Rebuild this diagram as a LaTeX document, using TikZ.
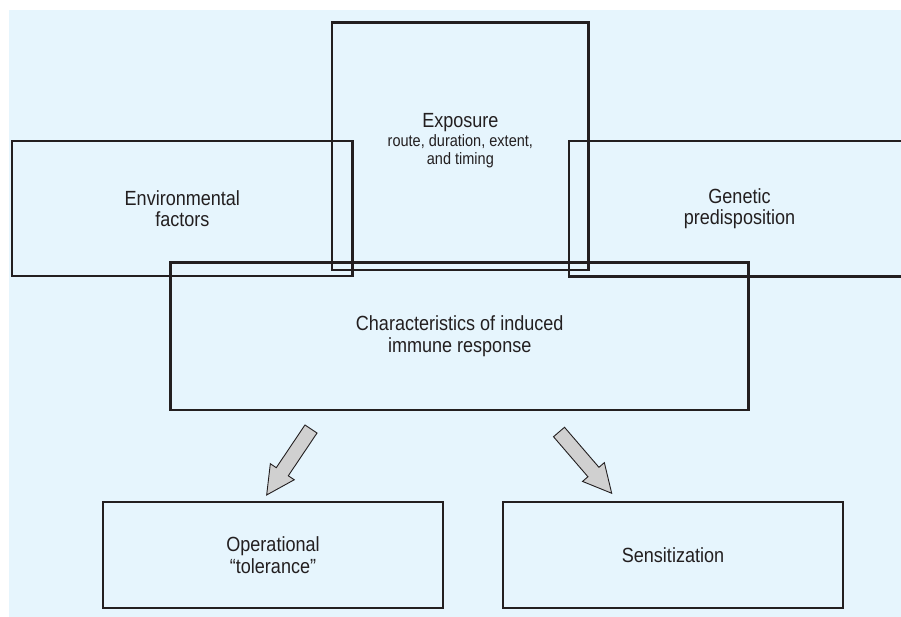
\documentclass[tikz,border=0pt]{standalone}
\usepackage{fontspec}
\setmainfont{Liberation Sans}[FakeStretch=0.88]
\definecolor{bgblue}{RGB}{230,245,253}
\definecolor{ink}{RGB}{35,31,32}
\definecolor{arrowgray}{RGB}{208,208,208}
\newcommand{\subfnt}{\fontsize{16.5}{18.4}\selectfont}
\tikzset{
  boxtext/.style={text=ink, align=center, font=\fontsize{20.5}{21.5}\selectfont},
  box/.style={draw=ink, line width=2.8pt, rectangle, inner sep=0pt, boxtext},
  blockarrow/.style={draw=ink, line width=0.9pt, fill=arrowgray, line join=miter}
}
\begin{document}
\begin{tikzpicture}[x=1pt,y=1pt]
\useasboundingbox (0,0) rectangle (901,-617);
\clip (0,0) rectangle (901,-617);
\fill[bgblue] (9,-10) rectangle (901,-617);

\node[box, minimum width=256.7, minimum height=247.3,
  label={[boxtext, yshift=5.5pt]center:Exposure\\[-3.1pt]{\subfnt route, duration, extent,}\\[-3.1pt]{\subfnt and timing}}]
  (ex) at (460.35,-146.35) {};
\node[box, minimum width=340.7, minimum height=135] (env) at (182.35,-208.5)
  {Environmental\\factors};
\node[box, minimum width=341, minimum height=135.5] (gen) at (739.5,-208.75)
  {Genetic\\predisposition};
\node[box, minimum width=578, minimum height=147.7] (chr) at (459.7,-336.15)
  {Characteristics of induced\\immune response};
\node[box, minimum width=340, minimum height=106] (op) at (273,-555)
  {Operational\\``tolerance''};
\node[box, minimum width=340, minimum height=106] (sen) at (673,-555)
  {Sensitization};

\coordinate (a1t) at (311,-429);
\coordinate (a1h) at (266.7,-495);
\coordinate (a2t) at (559,-432);
\coordinate (a2h) at (611.7,-493.3);

\begin{scope}[shift={(a1t)}, rotate=236.1]
  \draw[blockarrow] (0,-7.25) -- (51.5,-7.25) -- (51.5,-14.4) -- (79.5,0)
    -- (51.5,14.4) -- (51.5,7.25) -- (0,7.25) -- cycle;
\end{scope}
\begin{scope}[shift={(a2t)}, rotate=-49.3]
  \draw[blockarrow] (0,-7.25) -- (52.8,-7.25) -- (52.8,-14.4) -- (80.8,0)
    -- (52.8,14.4) -- (52.8,7.25) -- (0,7.25) -- cycle;
\end{scope}
\end{tikzpicture}
\end{document}
